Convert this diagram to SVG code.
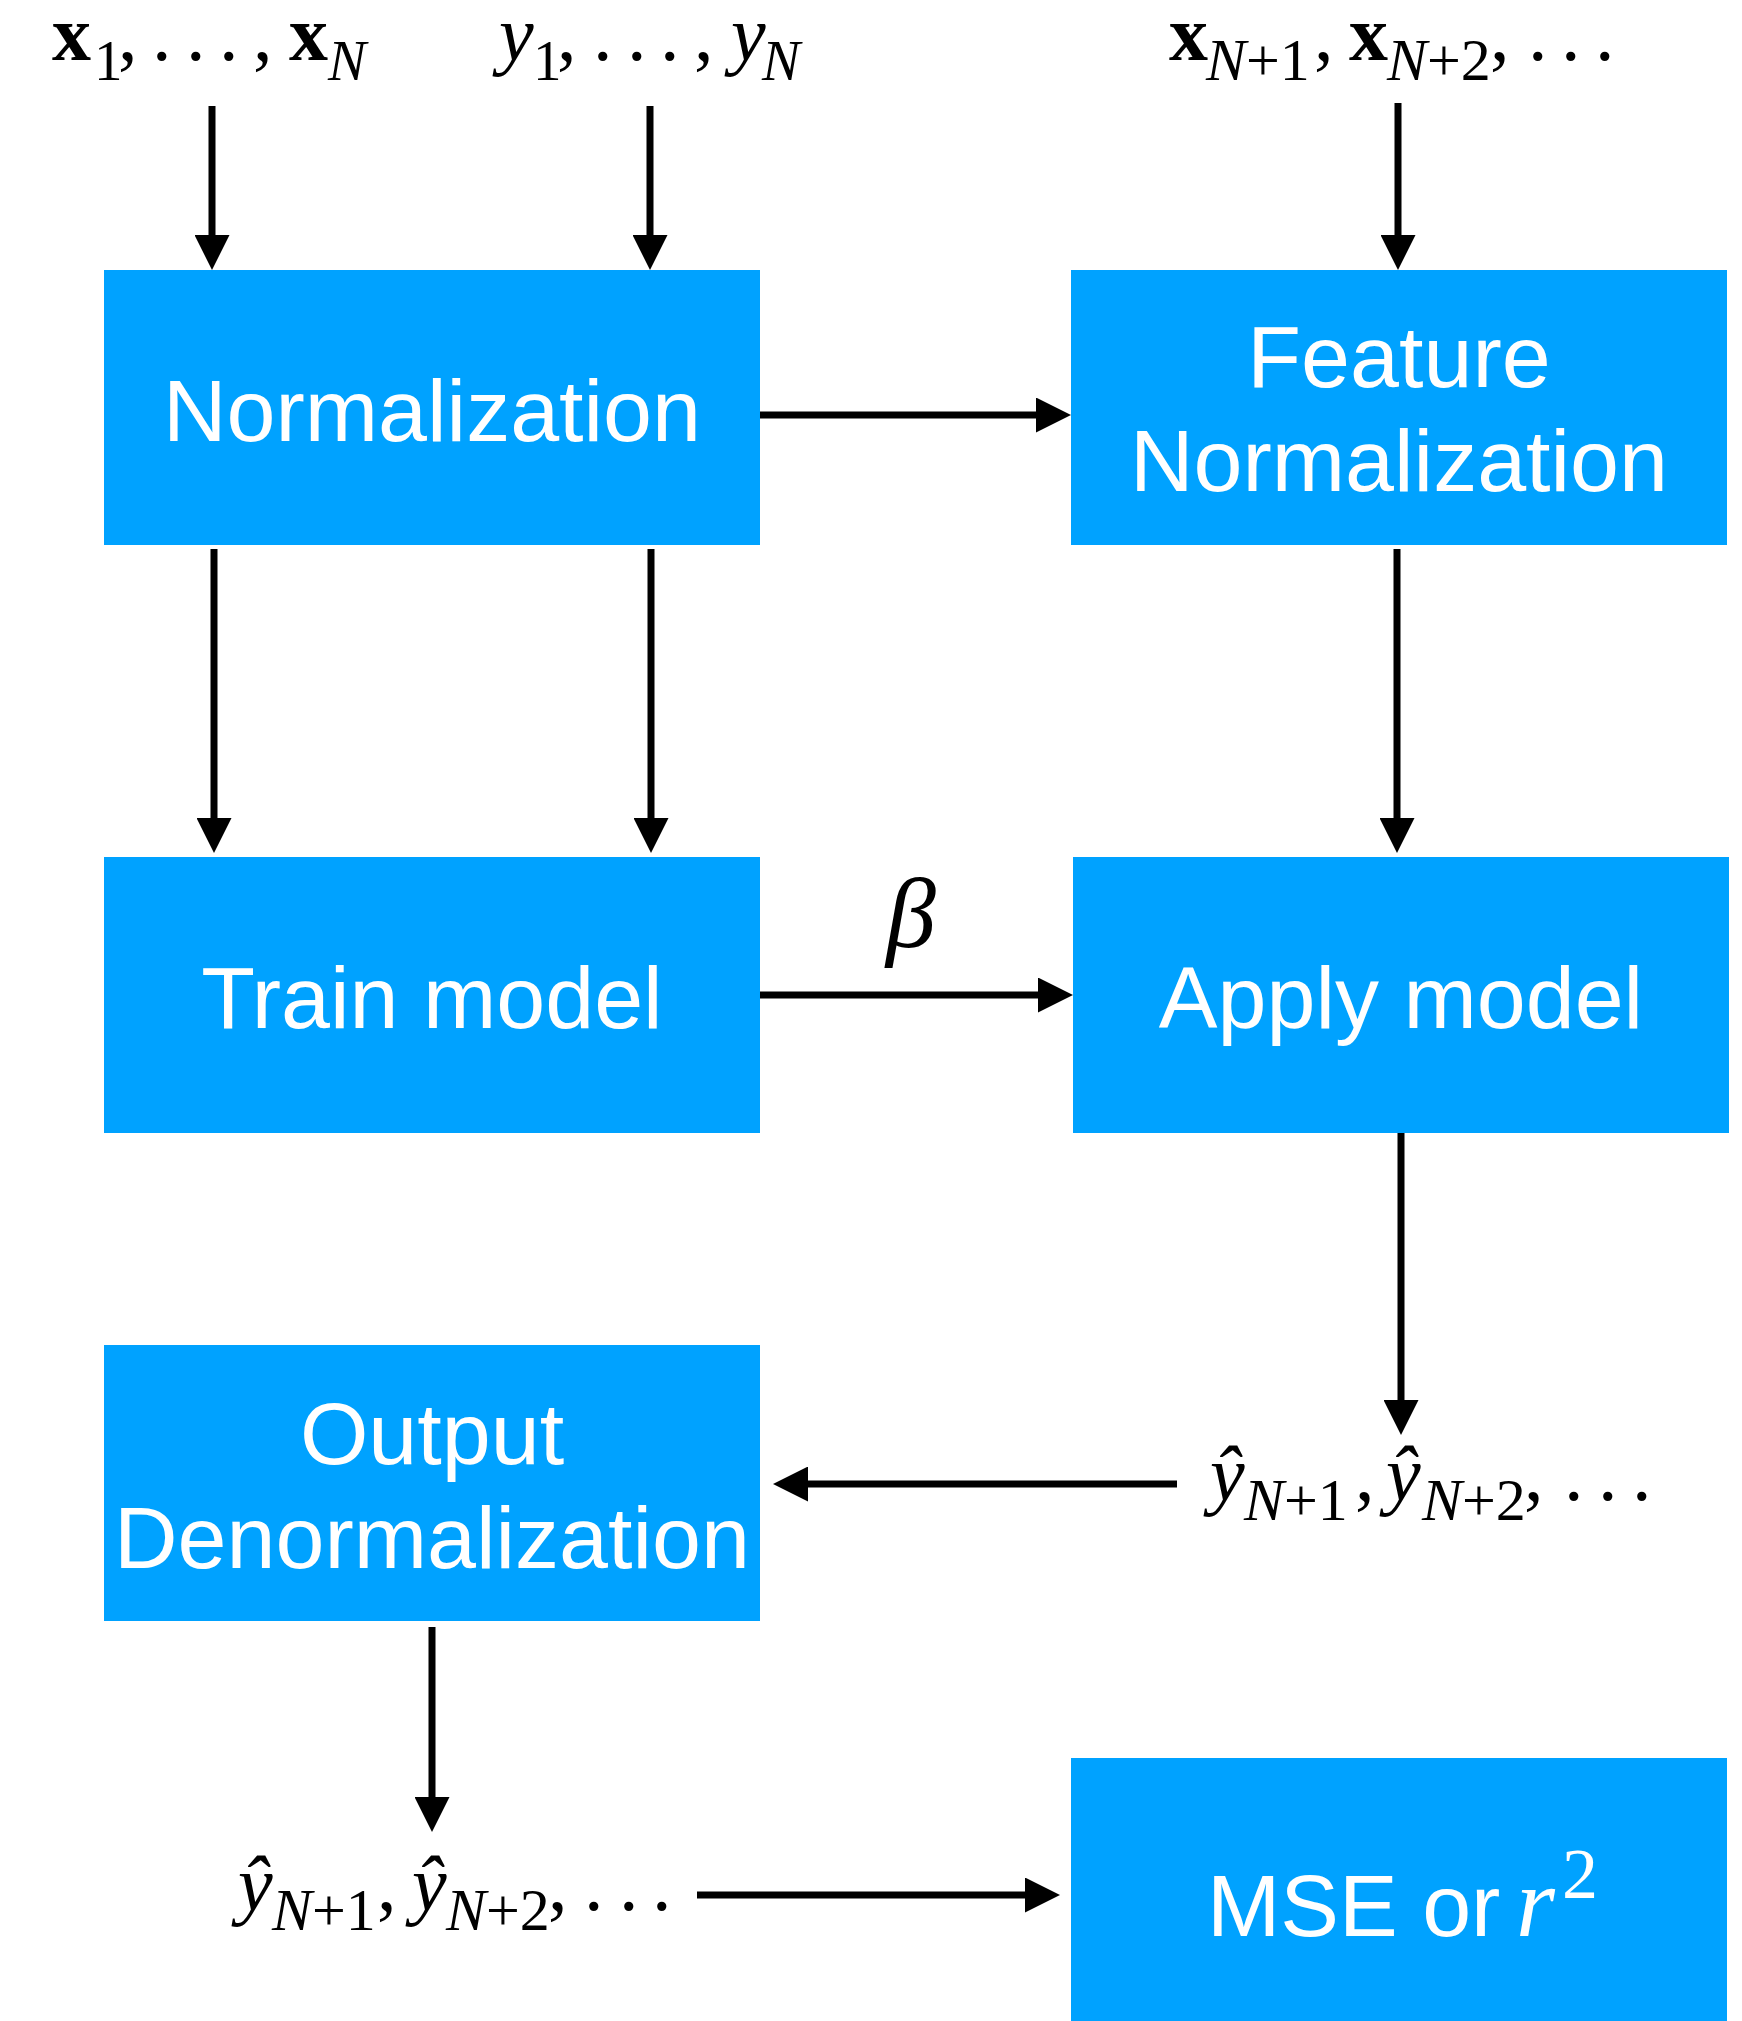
<svg xmlns="http://www.w3.org/2000/svg" width="1742" height="2021" viewBox="0 0 1742 2021">
<style>
.box{fill:#00A2FF}
.lbl{font-family:"Liberation Sans",Arial,sans-serif;font-size:88px;fill:#fff}
.m{font-family:"Liberation Serif","Times New Roman",serif;font-size:78px;fill:#000}
.sub{font-size:57px}
.sub2{font-size:60px}
.b{font-weight:bold}
.i{font-style:italic}
.conn{stroke:#000;stroke-width:7;fill:none}
</style>
<defs>
<marker id="ah" viewBox="0 0 35 35" refX="5" refY="17.5" markerWidth="35" markerHeight="35" markerUnits="userSpaceOnUse" orient="auto">
<path d="M0,0 L35,17.5 L0,35 Z" fill="#000"/>
</marker>
</defs>
<rect width="1742" height="2021" fill="#fff"/>
<g id="connectors">
<line class="conn" x1="212" y1="106" x2="212" y2="240" marker-end="url(#ah)"/>
<line class="conn" x1="650" y1="106" x2="650" y2="240" marker-end="url(#ah)"/>
<line class="conn" x1="1398" y1="103" x2="1398" y2="240" marker-end="url(#ah)"/>
<line class="conn" x1="760" y1="415" x2="1041" y2="415" marker-end="url(#ah)"/>
<line class="conn" x1="214" y1="549" x2="214" y2="823" marker-end="url(#ah)"/>
<line class="conn" x1="651" y1="549" x2="651" y2="823" marker-end="url(#ah)"/>
<line class="conn" x1="1397" y1="549" x2="1397" y2="823" marker-end="url(#ah)"/>
<line class="conn" x1="760" y1="995" x2="1043" y2="995" marker-end="url(#ah)"/>
<line class="conn" x1="1401" y1="1133" x2="1401" y2="1405" marker-end="url(#ah)"/>
<line class="conn" x1="1177" y1="1484" x2="803" y2="1484" marker-end="url(#ah)"/>
<line class="conn" x1="432" y1="1627" x2="432" y2="1802" marker-end="url(#ah)"/>
<line class="conn" x1="697" y1="1895" x2="1030" y2="1895" marker-end="url(#ah)"/>
<text class="m i" x="886" y="947" style="font-size:100px">β</text>
</g>
<g id="in-x">
<text class="m"><tspan class="b" x="52" y="60">x</tspan><tspan class="sub" x="94" y="80">1</tspan><tspan x="118 152 186 219 253" y="60">,...,</tspan><tspan class="b" x="289" y="60">x</tspan><tspan class="sub i" x="328" y="80">N</tspan></text>
</g>
<g id="in-y">
<text class="m"><tspan class="i" x="499" y="60">y</tspan><tspan class="sub" x="533" y="80">1</tspan><tspan x="557 593 627 660 694" y="60">,...,</tspan><tspan class="i" x="731" y="60">y</tspan><tspan class="sub i" x="762" y="80">N</tspan></text>
</g>
<g id="in-xnew">
<text class="m"><tspan class="b" x="1169" y="60">x</tspan><tspan class="sub2" x="1206" y="80"><tspan class="i">N</tspan>+1</tspan><tspan x="1314" y="60">,</tspan><tspan class="b" x="1349" y="60">x</tspan><tspan class="sub2" x="1387" y="80"><tspan class="i">N</tspan>+2</tspan><tspan x="1490 1528 1561 1595" y="60">,...</tspan></text>
</g>
<g id="normalization">
<rect class="box" x="104" y="270" width="656" height="275"/>
<text class="lbl" x="432" y="441" text-anchor="middle">Normalization</text>
</g>
<g id="feature-normalization">
<rect class="box" x="1071" y="270" width="656" height="275"/>
<text class="lbl" x="1399" y="387" text-anchor="middle">Feature</text>
<text class="lbl" x="1399" y="491" text-anchor="middle">Normalization</text>
</g>
<g id="train-model">
<rect class="box" x="104" y="857" width="656" height="276"/>
<text class="lbl" x="432" y="1028" text-anchor="middle">Train model</text>
</g>
<g id="apply-model">
<rect class="box" x="1073" y="857" width="656" height="276"/>
<text class="lbl" x="1401" y="1028" text-anchor="middle">Apply model</text>
</g>
<g id="yhat-norm">
<text class="m"><tspan class="i" x="1210" y="1500">ŷ</tspan><tspan class="sub2" x="1244" y="1520"><tspan class="i">N</tspan>+1</tspan><tspan x="1355" y="1500">,</tspan><tspan class="i" x="1386" y="1500">ŷ</tspan><tspan class="sub2" x="1422" y="1520"><tspan class="i">N</tspan>+2</tspan><tspan x="1524 1564 1598 1632" y="1500">,...</tspan></text>
</g>
<g id="output-denormalization">
<rect class="box" x="104" y="1345" width="656" height="276"/>
<text class="lbl" x="432" y="1464" text-anchor="middle">Output</text>
<text class="lbl" x="432" y="1568" text-anchor="middle">Denormalization</text>
</g>
<g id="yhat-out">
<text class="m"><tspan class="i" x="238" y="1910">ŷ</tspan><tspan class="sub2" x="272" y="1930"><tspan class="i">N</tspan>+1</tspan><tspan x="377" y="1910">,</tspan><tspan class="i" x="412" y="1910">ŷ</tspan><tspan class="sub2" x="446" y="1930"><tspan class="i">N</tspan>+2</tspan><tspan x="548 584 619 652" y="1910">,...</tspan></text>
</g>
<g id="mse">
<rect class="box" x="1071" y="1758" width="656" height="275"/>
<text class="lbl" x="1207" y="1936">MSE or </text>
<text class="m i" x="1516" y="1936" style="font-size:100px;fill:#fff">r</text>
<text class="m" x="1562" y="1898" style="font-size:72px;fill:#fff">2</text>
</g>
</svg>
